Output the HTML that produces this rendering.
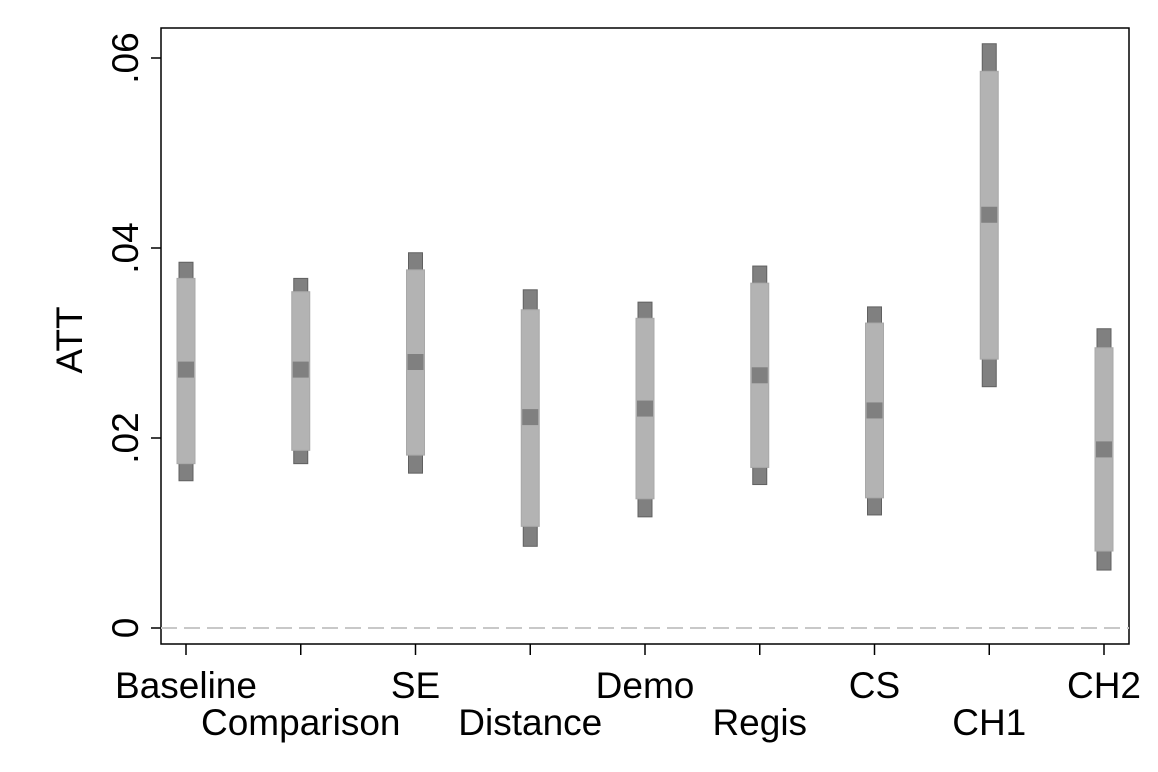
<!DOCTYPE html>
<html><head><meta charset="utf-8"><style>
body{margin:0;background:#fff;}
svg{display:block;font-family:"Liberation Sans",sans-serif;}
</style></head><body>
<svg id="chart" width="1158" height="772">
<rect x="161" y="28" width="968" height="616" fill="none" stroke="#000" stroke-width="1.5"/>
<line x1="161" y1="628" x2="1129" y2="628" stroke="#c8c8c8" stroke-width="2" stroke-dasharray="16,7"/>
<text transform="translate(82,340) rotate(-90)" font-size="37" text-anchor="middle" fill="#000">ATT</text>
<g id="marks"></g>
</svg>
<script>
const categories=["Baseline","Comparison","SE","Distance","Demo","Regis","CS","CH1","CH2"];
const estimates=[0.0272,0.0272,0.0280,0.0222,0.0231,0.0266,0.0229,0.0435,0.0188];
const ci95Low=[0.0155,0.0173,0.0163,0.0086,0.0117,0.0151,0.0119,0.0254,0.0061];
const ci95High=[0.0385,0.0368,0.0395,0.0356,0.0343,0.0381,0.0338,0.0615,0.0315];
const ci90Low=[0.0173,0.0187,0.0182,0.0107,0.0136,0.0169,0.0137,0.0283,0.0081];
const ci90High=[0.0368,0.0354,0.0377,0.0335,0.0326,0.0363,0.0321,0.0586,0.0295];
const yTicks=[0,0.02,0.04,0.06];
const yTickLabels=["0",".02",".04",".06"];
const NS="http://www.w3.org/2000/svg";
const svg=document.getElementById('chart');
const g=document.getElementById('marks');
function y(v){return 628-v*9500;}
function x(i){return 186+i*114.75;}
function mk(tag,attrs,parent){const e=document.createElementNS(NS,tag);for(const k in attrs)e.setAttribute(k,attrs[k]);(parent||svg).appendChild(e);return e;}
yTicks.forEach((t,i)=>{
  const l=mk('line',{x1:151,x2:161,y1:y(t),y2:y(t),stroke:'#000','stroke-width':1.5});
  
  
  const tx=mk('text',{transform:`translate(138,${y(t)}) rotate(-90)`,'font-size':37,'text-anchor':'middle'});
  tx.textContent=yTickLabels[i];
  
  
});
categories.forEach((c,i)=>{
  const cx=x(i);
  const l=mk('line',{x1:cx,x2:cx,y1:644,y2:655,stroke:'#000','stroke-width':1.5});
  
  
  const tx=mk('text',{x:cx,y:i%2===0?698:735,'font-size':37,'text-anchor':'middle'});
  tx.textContent=c;
  
  
  const o=mk('rect',{x:cx-7,y:y(ci95High[i]),width:14,height:y(ci95Low[i])-y(ci95High[i]),fill:'#808080',stroke:'#606060','stroke-width':1},g);
  
  
  const n=mk('rect',{x:cx-9,y:y(ci90High[i]),width:18,height:y(ci90Low[i])-y(ci90High[i]),fill:'#b3b3b3',stroke:'#a8a8a8','stroke-width':1},g);
  
  
  const p=mk('rect',{x:cx-8,y:y(estimates[i])-8,width:16,height:16,fill:'#808080'},g);
  
  
});
</script>
</body></html>
